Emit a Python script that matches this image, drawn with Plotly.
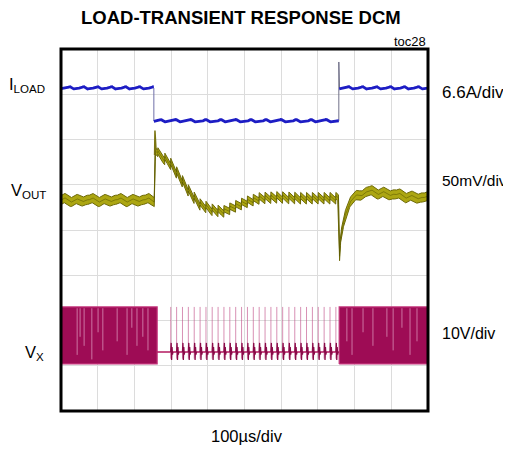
import numpy as np
import plotly.graph_objects as go

# ---------------- scope settings ----------------
TIME_PER_DIV_US = 100
N_XDIV, N_YDIV = 10, 8
ILOAD_A_PER_DIV = 6.6
VOUT_MV_PER_DIV = 50
VX_V_PER_DIV = 10

# channel ground markers (divisions from bottom of screen)
ILOAD_ZERO_DIV = 6.41
VOUT_ZERO_DIV = 4.66
VX_ZERO_DIV = 1.04

# ---------------- events (µs) ----------------
LOAD_STEP_DOWN_US = 253
LOAD_STEP_UP_US = 757
VX_CCM_END_US = 262
VX_CCM_START_US = 758

# ---------------- ILOAD (A) ----------------
ILOAD_HIGH_A = 4.8
ILOAD_LOW_A = 0.0
ILOAD_OVERSHOOT_A = 8.6
ILOAD_RIPPLE_PERIOD_US = [38, 41]          # heavy load, light load
ILOAD_RIPPLE_SHAPE_A = [-0.08, -0.06, -0.03, 0.0, 0.04, 0.25, 0.02, -0.14]

# ---------------- VOUT (mV deviation) ----------------
VOUT_KEY_T_US = [0, 254, 257, 262, 297, 324, 351, 379, 414, 441, 469, 507,
                 542, 589, 651, 756, 759, 762, 768, 774, 787, 807, 834, 877, 924, 1000]
VOUT_KEY_MV = [0, 0, 55, 52, 41, 25, 8, -5, -11, -13, -8, -2,
               2, 3, 2, 2, -62, -42, -30, -19, 0, 5, 9, 8, 5, 2]
VOUT_SPIKE_T_US = [255, 256, 259]
VOUT_SPIKE_MV = [50, 77, 55]
VOUT_CCM_RIPPLE_MV = [0, 1.5, 2.5, 1, -1, -2.5, -1, 0.5, 1.5, 0.5, -1, -2, -0.5, 0.5]
VOUT_DCM_RIPPLE_MV = 6
VOUT_BAND_MV = [5, 3.5]                     # half thickness CCM, DCM

# ---------------- VX (V) ----------------
VX_HIGH_V = 12.6
VX_LOW_V = 0.0
VX_RING_LEVEL_V = 2.65
VX_PULSE_T_US = [299, 315, 331, 347, 363, 379, 395, 412, 428, 444, 460, 476, 492, 508,
                 524, 540, 556, 572, 588, 604, 621, 637, 653, 669, 685, 701, 717, 733, 749]
VX_RING_V = [2.0, -1.8, 1.1, -0.6]
VX_GAP_T_US = [44, 52, 63, 84, 101, 114, 153, 180, 193, 207, 223, 237,
               779, 793, 823, 850, 888, 905, 929, 951, 970]
VX_GAP_BOTTOM_V = [2, 6, 4, 1, 7, 3, 5, 2, 8, 4, 6, 3,
                   5, 2, 7, 4, 6, 3, 8, 2, 5]


def tile(t, period, shape):
    s = np.asarray(list(shape) + [shape[0]], dtype=float)
    pos = (t % period) / period * (len(s) - 1)
    return np.interp(pos, np.arange(len(s)), s)


def saw(t, pulses, amp):
    p = np.asarray(pulses, dtype=float)
    out = np.zeros_like(t)
    idx = np.searchsorted(p, t, side="right") - 1
    per = np.median(np.diff(p))
    ok = idx >= 0
    frac = np.clip((t[ok] - p[idx[ok]]) / per, 0, 1)
    out[ok] = amp * (0.5 - frac)
    return out


def ild(a):
    return ILOAD_ZERO_DIV + np.asarray(a) / ILOAD_A_PER_DIV


def vod(mv):
    return VOUT_ZERO_DIV + np.asarray(mv) / VOUT_MV_PER_DIV


def vxd(v):
    return VX_ZERO_DIV + np.asarray(v) / VX_V_PER_DIV


def tx(t):
    return np.asarray(t) / TIME_PER_DIV_US


fig = go.Figure()

# ---------------- VX ----------------
VX_COL = "#9e0c55"
for (a, b) in [(0, VX_CCM_END_US), (VX_CCM_START_US, 1000)]:
    fig.add_trace(go.Scatter(
        x=tx([a, b, b, a, a]), y=vxd([VX_LOW_V, VX_LOW_V, VX_HIGH_V, VX_HIGH_V, VX_LOW_V]),
        fill="toself", fillcolor=VX_COL, mode="lines",
        line=dict(color="#c2337a", width=1.2), hoverinfo="skip", showlegend=False))
gx, gy = [], []
for t, bv in zip(VX_GAP_T_US, VX_GAP_BOTTOM_V):
    gx += [tx(t), tx(t), None]
    gy += [vxd(VX_HIGH_V - 0.3), vxd(bv), None]
fig.add_trace(go.Scatter(x=gx, y=gy, mode="lines", line=dict(color="rgba(225,160,195,0.7)", width=1),
                         hoverinfo="skip", showlegend=False))
# DCM baseline
fig.add_trace(go.Scatter(x=tx([VX_CCM_END_US, VX_CCM_START_US]), y=vxd([VX_RING_LEVEL_V] * 2),
                         mode="lines", line=dict(color="#b3185f", width=1.5),
                         hoverinfo="skip", showlegend=False))
px_, py_ = [], []
for t in VX_PULSE_T_US:
    px_ += [tx(t), tx(t), None]
    py_ += [vxd(VX_HIGH_V), vxd(VX_RING_LEVEL_V - 1.5), None]
fig.add_trace(go.Scatter(x=px_, y=py_, mode="lines", line=dict(color="rgba(190,70,130,0.6)", width=1),
                         hoverinfo="skip", showlegend=False))
rx, ry = [], []
for t in VX_PULSE_T_US:
    rx += [tx(t)] + [tx(t + 1.2 * (k + 1)) for k in range(len(VX_RING_V))] + [tx(t + 6), None]
    ry += [vxd(VX_RING_LEVEL_V)] + [vxd(VX_RING_LEVEL_V + r) for r in VX_RING_V] + [vxd(VX_RING_LEVEL_V), None]
fig.add_trace(go.Scatter(x=rx, y=ry, mode="lines", line=dict(color="#8a0a48", width=1.3),
                         hoverinfo="skip", showlegend=False))

# ---------------- VOUT ----------------
t = np.arange(0, 1000.01, 0.5)
center = np.interp(t, VOUT_KEY_T_US, VOUT_KEY_MV)
dcm = (t > LOAD_STEP_DOWN_US + 2) & (t < LOAD_STEP_UP_US)
rip = np.where(dcm, saw(t, [VX_CCM_END_US + 2, 283] + VX_PULSE_T_US, VOUT_DCM_RIPPLE_MV),
               tile(t, 2 * ILOAD_RIPPLE_PERIOD_US[0], VOUT_CCM_RIPPLE_MV))
half = np.where(dcm, VOUT_BAND_MV[1], VOUT_BAND_MV[0])
up = center + rip + half
lo = center + rip - half
fig.add_trace(go.Scatter(
    x=np.concatenate([tx(t), tx(t[::-1])]), y=np.concatenate([vod(up), vod(lo[::-1])]),
    fill="toself", fillcolor="#aca612", mode="lines", line=dict(color="#6e6a08", width=1),
    hoverinfo="skip", showlegend=False))
fig.add_trace(go.Scatter(x=tx(t), y=vod(center + rip), mode="lines",
                         line=dict(color="rgba(90,88,0,0.55)", width=1),
                         hoverinfo="skip", showlegend=False))
fig.add_trace(go.Scatter(x=tx(VOUT_SPIKE_T_US), y=vod(VOUT_SPIKE_MV), mode="lines",
                         line=dict(color="#7a7410", width=1.5), hoverinfo="skip", showlegend=False))

# ---------------- ILOAD ----------------
ILOAD_COL = "#1d1dc4"
t1 = np.arange(0, LOAD_STEP_DOWN_US + 0.01, 0.5)
t2 = np.arange(LOAD_STEP_DOWN_US, LOAD_STEP_UP_US + 0.01, 0.5)
t3 = np.arange(LOAD_STEP_UP_US + 1, 1000.01, 0.5)
i1 = ILOAD_HIGH_A + tile(t1, ILOAD_RIPPLE_PERIOD_US[0], ILOAD_RIPPLE_SHAPE_A)
i2 = ILOAD_LOW_A + tile(t2, ILOAD_RIPPLE_PERIOD_US[1], ILOAD_RIPPLE_SHAPE_A)
i3 = ILOAD_HIGH_A + tile(t3, ILOAD_RIPPLE_PERIOD_US[0], ILOAD_RIPPLE_SHAPE_A)
fig.add_trace(go.Scatter(x=tx([LOAD_STEP_DOWN_US, LOAD_STEP_DOWN_US]), y=ild([ILOAD_HIGH_A, ILOAD_LOW_A]),
                         mode="lines", line=dict(color="#7070a8", width=1), hoverinfo="skip", showlegend=False))
fig.add_trace(go.Scatter(x=tx([LOAD_STEP_UP_US, LOAD_STEP_UP_US, LOAD_STEP_UP_US + 2]),
                         y=ild([ILOAD_LOW_A, ILOAD_OVERSHOOT_A, ILOAD_HIGH_A]),
                         mode="lines", line=dict(color="#707088", width=1), hoverinfo="skip", showlegend=False))
for tt, ii in [(t1, i1), (t2, i2), (t3, i3)]:
    fig.add_trace(go.Scatter(x=tx(tt), y=ild(ii), mode="lines", line=dict(color=ILOAD_COL, width=2.8),
                             hoverinfo="skip", showlegend=False))

# ---------------- layout ----------------
# the page body has an 8px margin, so the figure is placed 8px right/down in the window
OFF = 8
W, H = 511 - OFF, 451 - OFF
L, T = 61 - OFF, 49 - OFF
R = W - (428 - OFF)
B = H - (411 - OFF)
PW, PH = W - L - R, H - T - B


def xp(px):
    return (px - OFF - L) / PW


def yp(py):
    return (H - B - (py - OFF)) / PH


FONT = "Liberation Sans, Arial, sans-serif"
ann = []


def add(text, x, y, xa="left", size=16, bold=False):
    ann.append(dict(text=(f"<b>{text}</b>" if bold else text), x=xp(x), y=yp(y), xref="paper", yref="paper",
                    xanchor=xa, yanchor="middle", showarrow=False,
                    font=dict(family=FONT, size=size, color="#000")))


add("LOAD-TRANSIENT RESPONSE DCM", 241, 17, "center", 18.5, True)
add("toc28", 428, 41, "right", 13)
add("I<sub>LOAD</sub>", 47, 85, "right", 16.5)
add("V<sub>OUT</sub>", 48, 191, "right", 16.5)
add("V<sub>X</sub>", 46, 353, "right", 16.5)
add("6.6A/div", 440, 92, "left", 17)
add("50mV/div", 440, 180, "left", 15.5)
add("10V/div", 440, 333, "left", 16)
add("100µs/div", 247, 436, "center", 16.5)

fig.update_layout(
    width=W, height=H, margin=dict(l=L, r=R, t=T, b=B, pad=0),
    paper_bgcolor="white", plot_bgcolor="white",
    xaxis=dict(range=[0, N_XDIV], dtick=1, showgrid=True, gridcolor="#dcdcdc", gridwidth=1,
               showticklabels=False, zeroline=False, ticks="", fixedrange=True),
    yaxis=dict(range=[0, N_YDIV], dtick=1, showgrid=True, gridcolor="#dcdcdc", gridwidth=1,
               showticklabels=False, zeroline=False, ticks="", fixedrange=True),
    annotations=ann,
    shapes=[dict(type="rect", xref="paper", yref="paper", x0=0, y0=0, x1=1, y1=1,
                 line=dict(color="black", width=3), layer="above")],
    showlegend=False,
)

fig.write_html("out.html")
